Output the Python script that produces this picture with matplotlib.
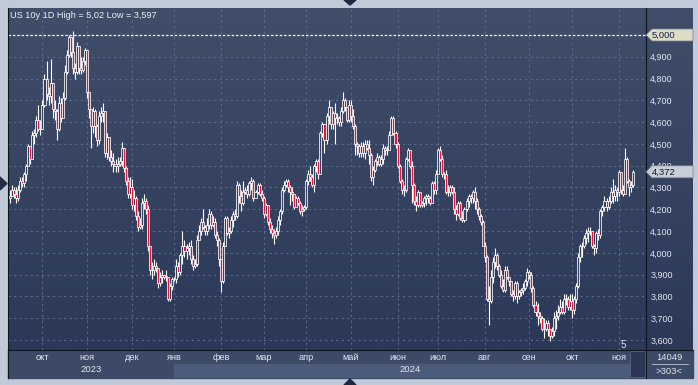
import numpy as np
import pandas as pd
import matplotlib
matplotlib.use("Agg")
import matplotlib.pyplot as plt
from matplotlib.patches import Rectangle, Polygon
from matplotlib.lines import Line2D
from matplotlib.transforms import blended_transform_factory

# ---------------- data (US 10y, daily, % yield) ----------------
first_open = 4.25

close_2023 = [
    # Sep (from 8th)
    4.26, 4.29, 4.27, 4.25, 4.29, 4.33, 4.32, 4.36, 4.40, 4.49, 4.43, 4.54, 4.55, 4.61, 4.57, 4.57,
    # Oct
    4.68, 4.80, 4.73, 4.72, 4.78, 4.66, 4.65, 4.57, 4.69, 4.62, 4.71, 4.83, 4.91, 4.99, 4.92, 4.85,
    4.83, 4.95, 4.85, 4.84, 4.88, 4.93,
    # Nov
    4.74, 4.66, 4.58, 4.65, 4.58, 4.52, 4.63, 4.64, 4.65, 4.46, 4.53, 4.44, 4.42, 4.41, 4.40, 4.41,
    4.42, 4.48, 4.39, 4.33, 4.27, 4.30,
    # Dec
    4.22, 4.25, 4.17, 4.12, 4.13, 4.23, 4.24, 4.20, 4.03, 3.92, 3.92, 3.94, 3.93, 3.86, 3.89, 3.90,
    3.89, 3.89, 3.79, 3.85, 3.88,
]
high_2023 = [
    4.29, 4.31, 4.30, 4.30, 4.31, 4.35, 4.35, 4.37, 4.41, 4.50, 4.48, 4.56, 4.57, 4.63, 4.68, 4.61,
    4.70, 4.82, 4.88, 4.76, 4.89, 4.78, 4.70, 4.66, 4.72, 4.71, 4.74, 4.86, 4.93, 5.00, 4.99, 5.02,
    4.87, 4.97, 4.95, 4.90, 4.90, 4.94,
    4.93, 4.74, 4.66, 4.67, 4.66, 4.59, 4.65, 4.67, 4.69, 4.65, 4.55, 4.53, 4.47, 4.46, 4.43, 4.44,
    4.44, 4.51, 4.48, 4.40, 4.35, 4.35,
    4.34, 4.29, 4.26, 4.19, 4.16, 4.25, 4.27, 4.25, 4.22, 4.02, 3.96, 3.97, 3.96, 3.93, 3.91, 3.92,
    3.90, 3.92, 3.88, 3.86, 3.89,
]
low_2023 = [
    4.23, 4.26, 4.25, 4.23, 4.24, 4.28, 4.30, 4.30, 4.33, 4.40, 4.41, 4.43, 4.50, 4.53, 4.56, 4.54,
    4.57, 4.67, 4.70, 4.68, 4.69, 4.62, 4.61, 4.52, 4.56, 4.60, 4.62, 4.70, 4.82, 4.90, 4.90, 4.82,
    4.80, 4.82, 4.82, 4.82, 4.83, 4.86,
    4.71, 4.62, 4.48, 4.55, 4.53, 4.49, 4.50, 4.60, 4.60, 4.44, 4.43, 4.42, 4.40, 4.37, 4.37, 4.37,
    4.40, 4.40, 4.37, 4.31, 4.25, 4.25,
    4.20, 4.19, 4.15, 4.10, 4.11, 4.11, 4.20, 4.18, 4.01, 3.90, 3.88, 3.90, 3.91, 3.84, 3.85, 3.86,
    3.88, 3.87, 3.78, 3.78, 3.83,
]

close_2024 = [
    # Jan
    3.88, 3.94, 3.91, 3.99, 4.03, 4.01, 4.02, 4.03, 3.97, 3.94, 3.95, 4.06, 4.10, 4.14, 4.12, 4.10,
    4.13, 4.18, 4.13, 4.14, 4.08, 4.06, 3.97,
    # Feb
    3.87, 4.03, 4.16, 4.09, 4.10, 4.15, 4.18, 4.17, 4.31, 4.26, 4.23, 4.28, 4.29, 4.27, 4.32, 4.33,
    4.25, 4.28, 4.31, 4.27, 4.25,
    # Mar
    4.18, 4.22, 4.14, 4.11, 4.09, 4.08, 4.10, 4.15, 4.19, 4.29, 4.31, 4.33, 4.30, 4.28, 4.27, 4.21,
    4.25, 4.23, 4.19, 4.20, 4.21,
    # Apr
    4.33, 4.36, 4.35, 4.31, 4.40, 4.42, 4.36, 4.55, 4.59, 4.52, 4.63, 4.67, 4.59, 4.64, 4.62, 4.62,
    4.60, 4.65, 4.70, 4.67, 4.61, 4.68,
    # May
    4.63, 4.58, 4.50, 4.49, 4.46, 4.49, 4.46, 4.50, 4.48, 4.45, 4.35, 4.38, 4.42, 4.44, 4.41, 4.43,
    4.48, 4.47, 4.47, 4.54, 4.62, 4.55, 4.50,
    # Jun
    4.40, 4.33, 4.29, 4.29, 4.43, 4.47, 4.40, 4.31, 4.24, 4.22, 4.28, 4.22, 4.23, 4.25, 4.26, 4.25,
    4.23, 4.32, 4.29, 4.36,
    # Jul
    4.47, 4.43, 4.36, 4.36, 4.28, 4.28, 4.30, 4.28, 4.20, 4.18, 4.23, 4.16, 4.15, 4.20, 4.24, 4.26,
    4.25, 4.28, 4.24, 4.20, 4.17, 4.14, 4.03,
    # Aug
    3.98, 3.79, 3.78, 3.89, 3.96, 3.99, 3.94, 3.90, 3.85, 3.83, 3.92, 3.89, 3.87, 3.81, 3.80, 3.86,
    3.80, 3.82, 3.83, 3.84, 3.87, 3.91,
    # Sep
    3.90, 3.84, 3.76, 3.73, 3.71, 3.70, 3.65, 3.65, 3.68, 3.65, 3.62, 3.64, 3.70, 3.71, 3.73, 3.75,
    3.73, 3.79, 3.79, 3.75, 3.78,
    # Oct
    3.74, 3.79, 3.85, 3.98, 4.03, 4.03, 4.07, 4.09, 4.10, 4.10, 4.03, 4.02, 4.09, 4.08, 4.19, 4.21,
    4.24, 4.21, 4.24, 4.28, 4.26, 4.29, 4.28,
    # Nov (to 12th)
    4.37, 4.29, 4.27, 4.43, 4.33, 4.30, 4.31, 4.372,
]
high_2024 = [
    3.89, 3.97, 3.96, 4.00, 4.10, 4.06, 4.04, 4.05, 4.06, 3.99, 3.97, 4.08, 4.13, 4.16, 4.20, 4.13,
    4.16, 4.20, 4.19, 4.17, 4.16, 4.10, 4.07,
    3.97, 4.05, 4.17, 4.17, 4.12, 4.17, 4.19, 4.20, 4.33, 4.32, 4.29, 4.33, 4.30, 4.31, 4.33, 4.35,
    4.34, 4.29, 4.32, 4.32, 4.29,
    4.26, 4.23, 4.22, 4.16, 4.13, 4.11, 4.12, 4.17, 4.20, 4.30, 4.33, 4.34, 4.34, 4.31, 4.30, 4.26,
    4.26, 4.26, 4.24, 4.22, 4.22,
    4.34, 4.38, 4.40, 4.36, 4.41, 4.43, 4.43, 4.56, 4.60, 4.59, 4.64, 4.70, 4.67, 4.65, 4.69, 4.64,
    4.63, 4.67, 4.74, 4.71, 4.67, 4.70,
    4.70, 4.66, 4.59, 4.51, 4.50, 4.51, 4.51, 4.52, 4.52, 4.52, 4.46, 4.40, 4.43, 4.46, 4.45, 4.45,
    4.50, 4.49, 4.49, 4.56, 4.63, 4.63, 4.56,
    4.51, 4.41, 4.34, 4.31, 4.44, 4.48, 4.47, 4.42, 4.32, 4.26, 4.29, 4.28, 4.24, 4.26, 4.27, 4.27,
    4.26, 4.33, 4.33, 4.38,
    4.48, 4.49, 4.45, 4.37, 4.38, 4.31, 4.31, 4.31, 4.30, 4.22, 4.24, 4.24, 4.19, 4.21, 4.25, 4.27,
    4.27, 4.29, 4.30, 4.25, 4.21, 4.18, 4.15,
    4.05, 3.99, 3.85, 3.92, 3.98, 4.02, 4.00, 3.95, 3.92, 3.88, 3.94, 3.94, 3.89, 3.87, 3.83, 3.87,
    3.87, 3.83, 3.84, 3.86, 3.88, 3.93,
    3.92, 3.91, 3.85, 3.78, 3.77, 3.73, 3.71, 3.70, 3.69, 3.69, 3.65, 3.66, 3.73, 3.74, 3.76, 3.79,
    3.78, 3.81, 3.81, 3.80, 3.81,
    3.81, 3.80, 3.86, 4.00, 4.04, 4.05, 4.08, 4.11, 4.12, 4.12, 4.10, 4.04, 4.10, 4.11, 4.20, 4.22,
    4.26, 4.25, 4.26, 4.30, 4.34, 4.31, 4.30,
    4.38, 4.33, 4.31, 4.48, 4.44, 4.34, 4.33, 4.38,
]
low_2024 = [
    3.87, 3.86, 3.89, 3.90, 3.95, 3.98, 3.97, 3.99, 3.95, 3.92, 3.93, 3.94, 4.06, 4.08, 4.11, 4.08,
    4.08, 4.11, 4.11, 4.12, 4.07, 4.03, 3.94,
    3.82, 3.86, 4.03, 4.08, 4.07, 4.09, 4.12, 4.15, 4.16, 4.23, 4.19, 4.22, 4.27, 4.25, 4.26, 4.29,
    4.24, 4.25, 4.27, 4.26, 4.24,
    4.16, 4.17, 4.13, 4.09, 4.07, 4.04, 4.07, 4.08, 4.13, 4.18, 4.28, 4.30, 4.28, 4.22, 4.24, 4.20,
    4.21, 4.22, 4.18, 4.17, 4.19,
    4.20, 4.31, 4.33, 4.30, 4.28, 4.37, 4.34, 4.36, 4.53, 4.46, 4.50, 4.59, 4.57, 4.57, 4.50, 4.59,
    4.58, 4.58, 4.64, 4.65, 4.60, 4.60,
    4.60, 4.57, 4.45, 4.45, 4.44, 4.44, 4.44, 4.43, 4.47, 4.41, 4.33, 4.31, 4.37, 4.40, 4.40, 4.40,
    4.41, 4.45, 4.45, 4.47, 4.54, 4.54, 4.48,
    4.39, 4.32, 4.27, 4.26, 4.28, 4.42, 4.39, 4.23, 4.22, 4.19, 4.21, 4.21, 4.21, 4.21, 4.22, 4.23,
    4.22, 4.23, 4.27, 4.27,
    4.36, 4.42, 4.35, 4.34, 4.27, 4.26, 4.26, 4.27, 4.18, 4.15, 4.17, 4.15, 4.14, 4.14, 4.19, 4.21,
    4.23, 4.23, 4.20, 4.18, 4.15, 4.13, 4.03,
    3.96, 3.78, 3.667, 3.77, 3.86, 3.93, 3.92, 3.89, 3.84, 3.82, 3.82, 3.88, 3.85, 3.80, 3.78, 3.79,
    3.77, 3.79, 3.80, 3.81, 3.83, 3.85,
    3.88, 3.82, 3.75, 3.71, 3.67, 3.68, 3.64, 3.61, 3.64, 3.62, 3.597, 3.61, 3.62, 3.65, 3.69, 3.72,
    3.72, 3.72, 3.76, 3.74, 3.74,
    3.70, 3.72, 3.77, 3.84, 3.96, 3.98, 4.02, 4.04, 4.05, 4.08, 4.02, 3.99, 4.00, 4.06, 4.07, 4.17,
    4.19, 4.19, 4.20, 4.23, 4.23, 4.24, 4.24,
    4.26, 4.27, 4.26, 4.34, 4.32, 4.26, 4.28, 4.30,
]

month_labels = ["окт", "ноя", "дек", "янв", "фев", "мар", "апр",
                "май", "июн", "июл", "авг", "сен", "окт", "ноя"]
year_labels = ["2023", "2024"]
price_ticks = [3.6, 3.7, 3.8, 3.9, 4.0, 4.1, 4.2, 4.3, 4.4, 4.5, 4.6, 4.7, 4.8, 4.9]
level_price = 5.0
last_price = 4.372
title_text = "US 10y 1D High = 5,02 Low = 3,597"
panel_top_text = "14049"
panel_bottom_text = ">303<"
corner_text = "5"

# ---------------- assemble ----------------
dates = pd.bdate_range("2023-09-08", "2024-11-12")
close = np.array(close_2023 + close_2024)
high = np.array(high_2023 + high_2024)
low = np.array(low_2023 + low_2024)
if not (len(dates) == len(close) == len(high) == len(low)):
    raise SystemExit(f"length mismatch {len(dates)} {len(close)} {len(high)} {len(low)}")
opn = np.concatenate([[first_open], close[:-1]])
xs = np.arange(len(close))

W, H = 698, 385
plt.rcParams["font.family"] = ["Liberation Sans", "DejaVu Sans"]
fig = plt.figure(figsize=(W / 100, H / 100), dpi=100, facecolor="#c0cad8")

def fr(px, py):
    return px / W, 1 - py / H

# background gradient axes (plot + right price scale)
bg = fig.add_axes([8 / W, 1 - 350 / H, 685 / W, 342 / H], zorder=-3)
grad = np.linspace(0, 1, 256).reshape(-1, 1)
top_c = np.array([64, 78, 106]) / 255
bot_c = np.array([43, 56, 88]) / 255
img = top_c[None, None, :] * (1 - grad[:, :, None]) + bot_c[None, None, :] * grad[:, :, None]
bg.imshow(img, aspect="auto", extent=[0, 1, 0, 1])
bg.set_axis_off()

ax = fig.add_axes([8 / W, 1 - 350 / H, 638 / W, 342 / H], zorder=0)
ax.set_facecolor("none")

up = close >= opn
body_lo = np.minimum(opn, close)
body_h = np.maximum(np.abs(close - opn), 0.002)
ax.vlines(xs, low, high, color="white", lw=0.8, zorder=3)
ax.bar(xs[up], body_h[up], bottom=body_lo[up], width=1.0, color="#34415f",
       edgecolor="white", linewidth=0.55, zorder=4)
ax.bar(xs[~up], body_h[~up], bottom=body_lo[~up], width=1.0, color="#ec1238",
       edgecolor="white", linewidth=0.55, zorder=4)

px_per = 2.029
ax.set_xlim(-2 / px_per, 636 / px_per)
ax.set_ylim(3.6 - 10 / 217.86, 5.0 + 27 / 217.86)

# month ticks
month_idx = [i for i in range(1, len(dates)) if dates[i].month != dates[i - 1].month]
ax.set_xticks(month_idx)
ax.set_xticklabels(month_labels)
ax.yaxis.tick_right()
ax.set_yticks(price_ticks)
ax.set_yticklabels([f"{v:.3f}".replace(".", ",") for v in price_ticks])
ax.tick_params(axis="x", length=0, pad=2.2, labelsize=6.6, labelcolor="#e2e6ee")
ax.tick_params(axis="y", length=0, pad=3, labelsize=6.5, labelcolor="#e2e6ee")
for s in ax.spines.values():
    s.set_visible(False)
ax.grid(True, color="#5a6a8c", lw=0.8, ls=(0, (2, 3)), zorder=1)
ax.axhline(level_price, color="white", lw=0.9, ls=(0, (2, 1.5)), zorder=2)

# bottom band
fig.add_artist(Rectangle(fr(8, 378), 638 / W, 28 / H, transform=fig.transFigure,
                         color="#3c4967", zorder=-1))
jan_idx = month_idx[3]
jan_fx = fig.transFigure.inverted().transform(ax.transData.transform((jan_idx, 0)))[0]
fig.add_artist(Rectangle((jan_fx, 1 - 377 / H), 630 / W - jan_fx, 13 / H,
                         transform=fig.transFigure, color="#4d5b7b", zorder=-1))
fig.add_artist(Rectangle(fr(630, 377), 15 / W, 26 / H, transform=fig.transFigure,
                         facecolor="#2b3655", edgecolor="#56648a", lw=0.6, zorder=-1))
fig.add_artist(Rectangle(fr(646, 378), 47 / W, 28 / H, transform=fig.transFigure,
                         color="#3c4967", zorder=-1))

yr_tr = blended_transform_factory(ax.transData, fig.transFigure)
xl = ax.get_xlim()
ax.text((xl[0] + jan_idx) / 2, 1 - 370 / H, year_labels[0], transform=yr_tr,
        ha="center", va="center", fontsize=6.8, color="#e2e6ee", clip_on=False)
ax.text((jan_idx + xl[1]) / 2, 1 - 370 / H, year_labels[1], transform=yr_tr,
        ha="center", va="center", fontsize=6.8, color="#e2e6ee", clip_on=False)

fig.text(669 / W, 1 - 357 / H, panel_top_text, ha="center", va="center",
         fontsize=6.8, color="#e2e6ee")
fig.text(669 / W, 1 - 371 / H, panel_bottom_text, ha="center", va="center",
         fontsize=6.8, color="#e2e6ee")
fig.add_artist(Line2D([652 / W, 688 / W], [1 - 364 / H] * 2, transform=fig.transFigure,
                      color="#b8c2d2", lw=0.6))

# frame lines
for (x0, y0, x1, y1) in [(8, 8, 8, 378), (646, 8, 646, 378), (8, 350, 693, 350)]:
    a, b = fr(x0, y0)
    c, d = fr(x1, y1)
    fig.add_artist(Line2D([a, c], [b, d], transform=fig.transFigure, color="#0c1420", lw=0.8))

# price boxes on scale
pb = blended_transform_factory(fig.transFigure, ax.transData)
hh = 6 / 217.86
for val, fc, tc in [(level_price, "#dcdcc6", "#17224a"), (last_price, "#c8cdd7", "#101828")]:
    pts = [(646 / W, val), (652 / W, val + hh), (693 / W, val + hh),
           (693 / W, val - hh), (652 / W, val - hh)]
    fig.add_artist(Polygon(pts, closed=True, transform=pb, facecolor=fc,
                           edgecolor="#7a8090", lw=0.5, zorder=5))
    fig.add_artist(plt.Text(652 / W, val, f"{val:.3f}".replace(".", ","), transform=pb,
                            ha="left", va="center", fontsize=6.8, color=tc, zorder=6))

# title and misc
fig.text(10 / W, 1 - 15 / H, title_text, ha="left", va="center", fontsize=6.6, color="#eef0f4")
fig.text(623 / W, 1 - 345 / H, corner_text, ha="center", va="center", fontsize=7, color="#e2e6ee")

# decorative triangles
for pts, col in [([(344, 0), (356, 0), (350, 5)], "#1e2840"),
                 ([(344, 385), (356, 385), (350, 379)], "#1e2840"),
                 ([(0, 177), (0, 190), (7, 183.5)], "#222c44")]:
    fig.add_artist(Polygon([fr(*p) for p in pts], closed=True, transform=fig.transFigure,
                           color=col, zorder=6))

fig.savefig("out.png", dpi=100, facecolor=fig.get_facecolor())
